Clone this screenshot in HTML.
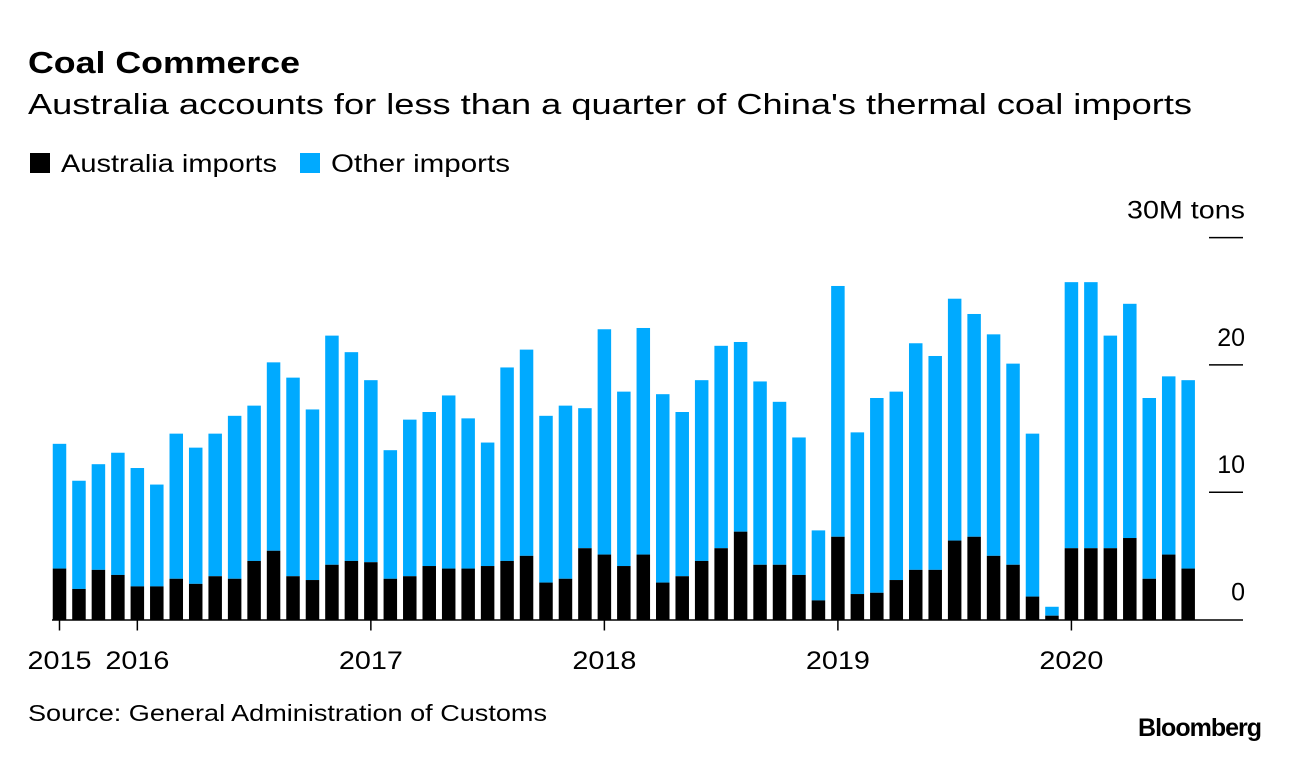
<!DOCTYPE html>
<html><head><meta charset="utf-8"><style>
body{margin:0;background:#fff;width:1289px;height:752px;overflow:hidden;font-family:"Liberation Sans",sans-serif;}
</style></head><body>
<svg width="1289" height="752" xmlns="http://www.w3.org/2000/svg" font-family="Liberation Sans, sans-serif">
<text x="28" y="73" font-size="31" font-weight="bold" fill="#000" textLength="272" lengthAdjust="spacingAndGlyphs">Coal Commerce</text>
<text x="28" y="114" font-size="29" fill="#000" textLength="1164" lengthAdjust="spacingAndGlyphs">Australia accounts for less than a quarter of China's thermal coal imports</text>
<g>
<rect x="30" y="153" width="20" height="20" fill="#000"/>
<text x="61" y="172" font-size="25" textLength="216" lengthAdjust="spacingAndGlyphs">Australia imports</text>
<rect x="300" y="153" width="20" height="20" fill="#00aaff"/>
<text x="331" y="172" font-size="25" textLength="179" lengthAdjust="spacingAndGlyphs">Other imports</text>
</g>
<g id="bars"></g>
<g id="axes"></g>
<text x="28" y="721" font-size="23" textLength="519" lengthAdjust="spacingAndGlyphs">Source: General Administration of Customs</text>
<text x="1261" y="736" font-size="25" font-weight="bold" text-anchor="end" letter-spacing="-1">Bloomberg</text>
</svg>
<script>
const totals=[13.8,10.9,12.2,13.1,11.9,10.6,14.6,13.5,14.6,16.0,16.8,20.2,19.0,16.5,22.3,21.0,18.8,13.3,15.7,16.3,17.6,15.8,13.9,19.8,21.2,16.0,16.8,16.6,22.8,17.9,22.9,17.7,16.3,18.8,21.5,21.8,18.7,17.1,14.3,7.0,26.2,14.7,17.4,17.9,21.7,20.7,25.2,24.0,22.4,20.1,14.6,1.0,26.5,26.5,22.3,24.8,17.4,19.1,18.8];
const australia=[4.0,2.4,3.9,3.5,2.6,2.6,3.2,2.8,3.4,3.2,4.6,5.4,3.4,3.1,4.3,4.6,4.5,3.2,3.4,4.2,4.0,4.0,4.2,4.6,5.0,2.9,3.2,5.6,5.1,4.2,5.1,2.9,3.4,4.6,5.6,6.9,4.3,4.3,3.5,1.5,6.5,2.0,2.1,3.1,3.9,3.9,6.2,6.5,5.0,4.3,1.8,0.3,5.6,5.6,5.6,6.4,3.2,5.1,4.0];
const yTicks=[0,10,20,30];
const yTickLabels=["0","10","20","30M tons"];
const xTickMonths=[0,4,16,28,40,52];
const xTickLabels=["2015","2016","2017","2018","2019","2020"];
const NS="http://www.w3.org/2000/svg";
const y0=619.5,pxPerUnit=12.73;
function yS(v){return y0-v*pxPerUnit;}
function xS(i){return 59.5+i*19.46;}
const bw=13.5;
const bg=document.getElementById('bars');
function mk(tag,attrs,parent){const e=document.createElementNS(NS,tag);for(const k in attrs)e.setAttribute(k,attrs[k]);parent.appendChild(e);return e;}
totals.forEach((t,i)=>{
  const a=australia[i];
  const o=mk('rect',{x:xS(i)-bw/2,y:yS(t),width:bw,height:(t-a)*pxPerUnit,fill:'#00aaff'},bg);
  
  
  const b=mk('rect',{x:xS(i)-bw/2,y:yS(a),width:bw,height:a*pxPerUnit,fill:'#000'},bg);
  
  
});
const ax=document.getElementById('axes');
const base=mk('line',{x1:52,x2:1243,y1:y0+0.5,y2:y0+0.5,stroke:'#000','stroke-width':1.5},ax);


yTicks.forEach((v,k)=>{
  if(v>0){
    const l=mk('line',{x1:1209,x2:1243,y1:yS(v),y2:yS(v),stroke:'#000','stroke-width':1.5},ax);
    
    
  }
  const attrs={x:1245,y:yS(v)-19,'font-size':25,'text-anchor':'end'};
  if(k==3){attrs.textLength=118;attrs.lengthAdjust='spacingAndGlyphs';}
  const t=mk('text',attrs,ax);
  t.textContent=yTickLabels[k];
  
  
});
xTickMonths.forEach((m,k)=>{
  const x=xS(m);
  const l=mk('line',{x1:x,x2:x,y1:y0,y2:y0+11,stroke:'#000','stroke-width':1.5},ax);
  
  
  const t=mk('text',{x:k==0?x-32:x-32,y:669,'font-size':25,textLength:64,lengthAdjust:'spacingAndGlyphs'},ax);
  t.textContent=xTickLabels[k];
  
  
});
</script>
</body></html>
